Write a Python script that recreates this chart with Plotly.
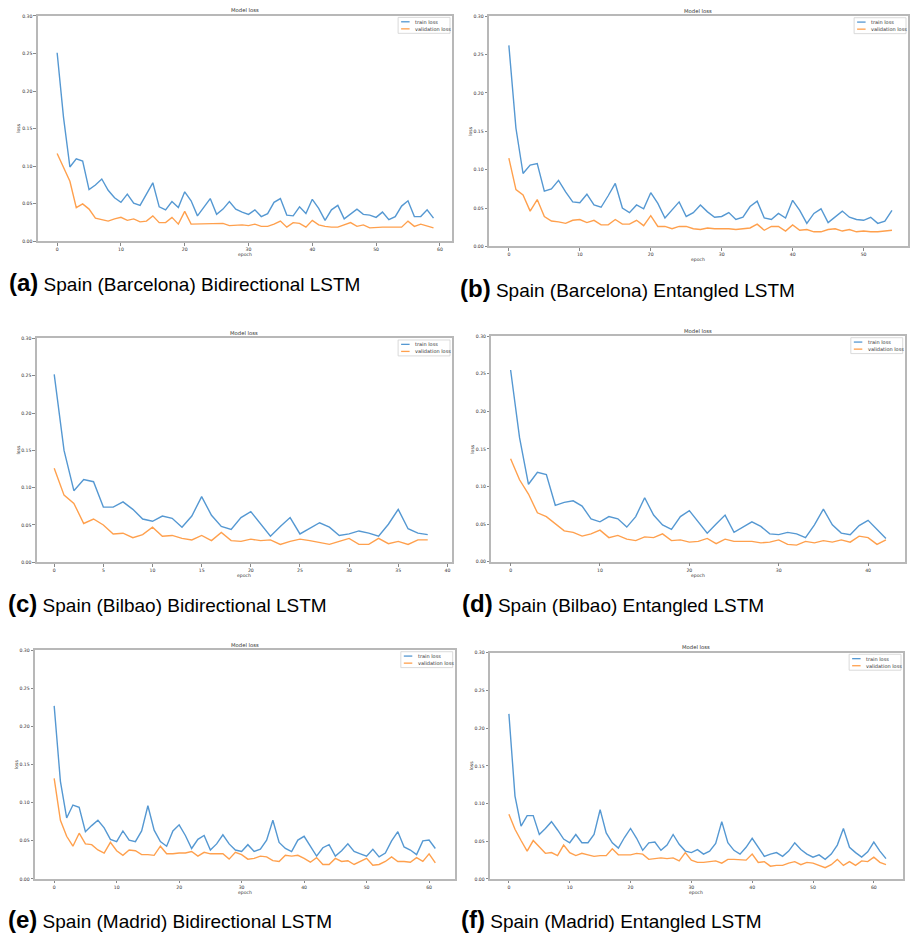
import plotly.graph_objects as go

W, H = 910, 934

# ---------------- data ----------------
train_a = [0.251, 0.165, 0.099, 0.110, 0.107, 0.069, 0.075, 0.083, 0.068, 0.058,
           0.052, 0.063, 0.051, 0.048, 0.063, 0.078, 0.046, 0.042, 0.053, 0.045,
           0.066, 0.054, 0.034, 0.046, 0.057, 0.036, 0.043, 0.053, 0.043, 0.039,
           0.036, 0.042, 0.033, 0.037, 0.052, 0.057, 0.035, 0.034, 0.046, 0.037,
           0.056, 0.044, 0.028, 0.042, 0.048, 0.030, 0.036, 0.043, 0.036, 0.035,
           0.032, 0.039, 0.029, 0.033, 0.047, 0.054, 0.033, 0.033, 0.042, 0.031]
val_a = [0.117, 0.098, 0.080, 0.045, 0.050, 0.043, 0.031, 0.029, 0.027, 0.030,
         0.032, 0.028, 0.030, 0.026, 0.027, 0.034, 0.025, 0.025, 0.032, 0.023,
         0.040, 0.023, 0.023, 0.023, 0.023, 0.023, 0.024, 0.021, 0.022, 0.022,
         0.021, 0.023, 0.020, 0.020, 0.023, 0.027, 0.019, 0.025, 0.024, 0.019,
         0.028, 0.022, 0.020, 0.019, 0.019, 0.022, 0.025, 0.020, 0.022, 0.018,
         0.019, 0.019, 0.019, 0.019, 0.019, 0.027, 0.020, 0.023, 0.021, 0.018]

train_b = [0.262, 0.154, 0.095, 0.106, 0.108, 0.072, 0.075, 0.086, 0.071, 0.058,
           0.057, 0.068, 0.054, 0.051, 0.066, 0.082, 0.050, 0.044, 0.054, 0.049,
           0.070, 0.056, 0.037, 0.048, 0.058, 0.039, 0.044, 0.054, 0.045, 0.038,
           0.039, 0.044, 0.035, 0.038, 0.052, 0.059, 0.037, 0.035, 0.043, 0.037,
           0.060, 0.047, 0.030, 0.043, 0.049, 0.031, 0.038, 0.046, 0.038, 0.035,
           0.034, 0.038, 0.030, 0.033, 0.047]
val_b = [0.115, 0.074, 0.067, 0.046, 0.061, 0.039, 0.033, 0.032, 0.030, 0.034,
         0.035, 0.031, 0.034, 0.028, 0.028, 0.035, 0.029, 0.029, 0.034, 0.027,
         0.040, 0.026, 0.026, 0.023, 0.026, 0.026, 0.023, 0.022, 0.024, 0.023,
         0.023, 0.023, 0.022, 0.023, 0.024, 0.029, 0.021, 0.026, 0.026, 0.020,
         0.028, 0.021, 0.022, 0.019, 0.019, 0.022, 0.023, 0.020, 0.022, 0.019,
         0.020, 0.019, 0.019, 0.020, 0.021]

train_c = [0.252, 0.150, 0.096, 0.111, 0.108, 0.074, 0.074, 0.081, 0.071, 0.058,
           0.055, 0.062, 0.059, 0.047, 0.062, 0.088, 0.063, 0.048, 0.044, 0.060,
           0.068, 0.051, 0.035, 0.048, 0.060, 0.038, 0.045, 0.053, 0.047, 0.036,
           0.038, 0.042, 0.039, 0.035, 0.051, 0.071, 0.045, 0.039, 0.037]
val_c = [0.126, 0.090, 0.079, 0.052, 0.058, 0.050, 0.038, 0.039, 0.033, 0.037,
         0.047, 0.035, 0.036, 0.032, 0.030, 0.036, 0.029, 0.040, 0.029, 0.028,
         0.031, 0.029, 0.030, 0.024, 0.028, 0.031, 0.029, 0.027, 0.024, 0.028,
         0.032, 0.024, 0.024, 0.032, 0.025, 0.028, 0.024, 0.030, 0.030]

train_d = [0.255, 0.165, 0.103, 0.119, 0.116, 0.075, 0.079, 0.081, 0.074, 0.057,
           0.053, 0.060, 0.057, 0.046, 0.060, 0.085, 0.062, 0.049, 0.043, 0.060,
           0.068, 0.053, 0.038, 0.050, 0.062, 0.039, 0.046, 0.053, 0.047, 0.037,
           0.036, 0.039, 0.037, 0.032, 0.049, 0.070, 0.049, 0.038, 0.036, 0.048,
           0.055, 0.043, 0.031]
val_d = [0.137, 0.109, 0.090, 0.065, 0.060, 0.051, 0.041, 0.039, 0.034, 0.037,
         0.042, 0.032, 0.035, 0.030, 0.028, 0.033, 0.032, 0.037, 0.028, 0.029,
         0.026, 0.027, 0.031, 0.024, 0.030, 0.027, 0.027, 0.027, 0.025, 0.026,
         0.029, 0.023, 0.022, 0.027, 0.025, 0.028, 0.026, 0.029, 0.026, 0.034,
         0.032, 0.023, 0.029]

train_e = [0.227, 0.128, 0.080, 0.097, 0.094, 0.062, 0.070, 0.077, 0.067, 0.052,
           0.049, 0.063, 0.051, 0.049, 0.063, 0.096, 0.064, 0.049, 0.043, 0.063,
           0.071, 0.057, 0.040, 0.052, 0.057, 0.038, 0.046, 0.058, 0.046, 0.038,
           0.036, 0.045, 0.036, 0.039, 0.051, 0.077, 0.048, 0.040, 0.036, 0.051,
           0.056, 0.043, 0.030, 0.041, 0.045, 0.030, 0.037, 0.046, 0.036, 0.033,
           0.030, 0.039, 0.029, 0.034, 0.050, 0.062, 0.042, 0.038, 0.032, 0.050,
           0.051, 0.040]
val_e = [0.132, 0.077, 0.056, 0.043, 0.060, 0.046, 0.045, 0.038, 0.034, 0.048,
         0.037, 0.031, 0.038, 0.037, 0.032, 0.032, 0.031, 0.043, 0.033, 0.033,
         0.034, 0.034, 0.036, 0.030, 0.035, 0.033, 0.033, 0.033, 0.026, 0.035,
         0.032, 0.026, 0.027, 0.030, 0.029, 0.024, 0.023, 0.031, 0.030, 0.031,
         0.027, 0.022, 0.028, 0.019, 0.019, 0.027, 0.023, 0.024, 0.019, 0.023,
         0.027, 0.018, 0.019, 0.023, 0.029, 0.023, 0.023, 0.022, 0.028, 0.023,
         0.033, 0.021]

train_f = [0.219, 0.110, 0.070, 0.084, 0.084, 0.059, 0.067, 0.076, 0.065, 0.053,
           0.048, 0.059, 0.048, 0.048, 0.059, 0.092, 0.061, 0.048, 0.041, 0.055,
           0.067, 0.054, 0.038, 0.048, 0.049, 0.038, 0.045, 0.059, 0.046, 0.037,
           0.035, 0.039, 0.033, 0.037, 0.047, 0.076, 0.048, 0.038, 0.033, 0.042,
           0.054, 0.042, 0.030, 0.033, 0.035, 0.030, 0.037, 0.048, 0.039, 0.033,
           0.029, 0.032, 0.026, 0.033, 0.045, 0.067, 0.042, 0.035, 0.029, 0.036,
           0.049, 0.037, 0.027]
val_f = [0.086, 0.066, 0.051, 0.037, 0.051, 0.042, 0.034, 0.035, 0.031, 0.045,
         0.035, 0.031, 0.034, 0.032, 0.030, 0.031, 0.031, 0.040, 0.032, 0.032,
         0.032, 0.034, 0.033, 0.026, 0.027, 0.028, 0.027, 0.028, 0.024, 0.035,
         0.025, 0.022, 0.022, 0.023, 0.024, 0.021, 0.026, 0.026, 0.026, 0.025,
         0.033, 0.022, 0.023, 0.017, 0.018, 0.018, 0.021, 0.023, 0.019, 0.022,
         0.021, 0.018, 0.015, 0.019, 0.026, 0.018, 0.023, 0.018, 0.024, 0.023,
         0.029, 0.022, 0.019]

tags = ["(a)", "(b)", "(c)", "(d)", "(e)", "(f)"]
captions = ["Spain (Barcelona) Bidirectional LSTM", "Spain (Barcelona) Entangled LSTM",
            "Spain (Bilbao) Bidirectional LSTM", "Spain (Bilbao) Entangled LSTM",
            "Spain (Madrid) Bidirectional LSTM", "Spain (Madrid) Entangled LSTM"]
series_names = ["train loss", "validation loss"]
y_ticks = [0.00, 0.05, 0.10, 0.15, 0.20, 0.25, 0.30]

# ---------------- layout geometry (pixels) ----------------
panels = [
    dict(tr=train_a, va=val_a, box=(37.7, 453, 14, 240.7), xr=(-3.06, 61.9), dt=10, cap=(7, 282)),
    dict(tr=train_b, va=val_b, box=(490, 910, 14.3, 245.7), xr=(-2.81, 56.26), dt=10, cap=(459, 288)),
    dict(tr=train_c, va=val_c, box=(36.7, 453, 338.3, 563.3), xr=(-1.79, 40.47), dt=5, cap=(6, 605)),
    dict(tr=train_d, va=val_d, box=(492.3, 906.7, 336, 562.7), xr=(-2.17, 44.1), dt=10, cap=(461, 605)),
    dict(tr=train_e, va=val_e, box=(35, 455.7, 651.7, 881.7), xr=(-3.08, 64.1), dt=10, cap=(6, 922)),
    dict(tr=train_f, va=val_f, box=(491, 905, 654.3, 881.7), xr=(-3.12, 64.8), dt=10, cap=(460, 922)),
]

C_TRAIN = "#5598d2"
C_VAL = "#ffa04d"
SPINE = "#b8b8b8"
TXT = "#333333"
SMALL = "DejaVu Sans, sans-serif"
CAPF = "Liberation Sans, Arial, sans-serif"


def fx(p):
    return p / W


def fy(p):
    return 1 - p / H


fig = go.Figure()
layout = dict(width=W, height=H, margin=dict(l=0, r=0, t=0, b=0),
              paper_bgcolor="white", plot_bgcolor="white", showlegend=False)
annotations = []
shapes = []

for i, p in enumerate(panels):
    k = "" if i == 0 else str(i + 1)
    l, r, t, b = p["box"]
    ep = list(range(len(p["tr"])))
    fig.add_trace(go.Scatter(x=ep, y=p["tr"], mode="lines", name=series_names[0],
                             line=dict(color=C_TRAIN, width=1.4),
                             xaxis="x" + k, yaxis="y" + k))
    fig.add_trace(go.Scatter(x=ep, y=p["va"], mode="lines", name=series_names[1],
                             line=dict(color=C_VAL, width=1.4),
                             xaxis="x" + k, yaxis="y" + k))
    layout["xaxis" + k] = dict(domain=[fx(l), min(fx(r), 1.0)], range=list(p["xr"]),
                               anchor="y" + k, showline=True, mirror=True,
                               linecolor=SPINE, linewidth=1.6, ticks="outside",
                               ticklen=2.5, tickwidth=0.8, tickcolor="#888",
                               tick0=0, dtick=p["dt"], showgrid=False, zeroline=False,
                               tickfont=dict(family=SMALL, size=4.6, color=TXT))
    layout["yaxis" + k] = dict(domain=[fy(b), fy(t)], range=[0, 0.30],
                               anchor="x" + k, showline=True, mirror=True,
                               linecolor=SPINE, linewidth=1.6, ticks="outside",
                               ticklen=2.5, tickwidth=0.8, tickcolor="#888",
                               tickvals=y_ticks, tickformat=".2f",
                               showgrid=False, zeroline=False,
                               tickfont=dict(family=SMALL, size=4.6, color=TXT))
    cx = (l + min(r, 910)) / 2
    annotations.append(dict(x=fx(cx), y=fy(t - 5.5), xref="paper", yref="paper",
                            text="Model loss", showarrow=False, xanchor="center",
                            yanchor="middle", font=dict(family=SMALL, size=5.3, color=TXT)))
    annotations.append(dict(x=fx(l - 18.5), y=fy((t + b) / 2), xref="paper", yref="paper",
                            text="loss", showarrow=False, textangle=-90, xanchor="center",
                            yanchor="middle", font=dict(family=SMALL, size=4.6, color=TXT)))
    annotations.append(dict(x=fx(cx), y=fy(b + 13.5),
                            xref="paper", yref="paper",
                            text="epoch", showarrow=False, xanchor="center",
                            yanchor="middle", font=dict(family=SMALL, size=4.6, color=TXT)))
    # legend box
    rr = min(r, 911)
    bl, br, bt, bb = rr - 54, rr - 2, t + 1.5, t + 17.5
    shapes.append(dict(type="rect", xref="paper", yref="paper",
                       x0=fx(bl), x1=fx(br), y0=fy(bb), y1=fy(bt),
                       line=dict(color="#d0d0d0", width=0.8), fillcolor="white"))
    for j, (nm, col) in enumerate(zip(series_names, [C_TRAIN, C_VAL])):
        yy = bt + 4.4 + j * 7.1
        shapes.append(dict(type="line", xref="paper", yref="paper",
                           x0=fx(bl + 3), x1=fx(bl + 11.5), y0=fy(yy), y1=fy(yy),
                           line=dict(color=col, width=1.3)))
        annotations.append(dict(x=fx(bl + 15), y=fy(yy), xref="paper", yref="paper",
                                text=nm, showarrow=False, xanchor="left", yanchor="middle",
                                font=dict(family=SMALL, size=5, color=TXT)))
    # caption
    cxp, cyp = p["cap"]
    annotations.append(dict(x=fx(cxp), y=fy(cyp), xref="paper", yref="paper",
                            text='<span style="font-size:24px"><b>' + tags[i] + '</b></span> '
                                 + captions[i],
                            showarrow=False, xanchor="left", yanchor="middle",
                            font=dict(family=CAPF, size=19, color="black")))

layout["annotations"] = annotations
layout["shapes"] = shapes
fig.update_layout(**layout)
fig.write_html("out.html")
